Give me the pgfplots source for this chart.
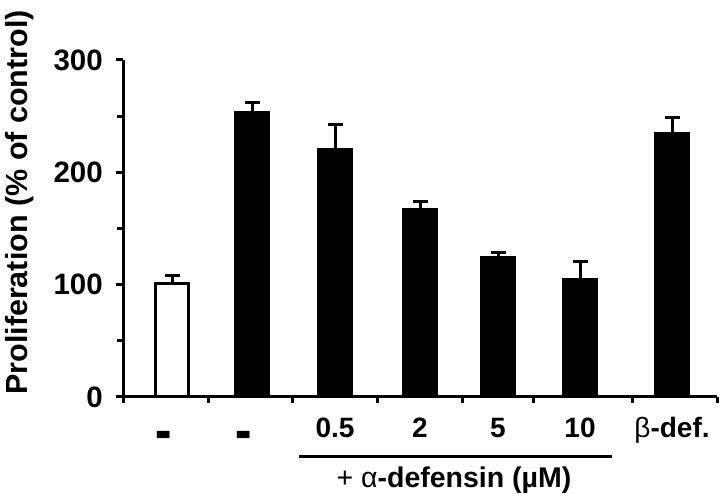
\documentclass[border=0pt]{standalone}
\usepackage{pgfplots}
\pgfplotsset{compat=1.18}
\usepackage{fontspec}
\setmainfont{Liberation Sans}
\newcommand{\dashlab}{\hbox to 0pt{\hss\raisebox{-17pt}{\scalebox{0.92}[2.6]{\textendash}}\kern16pt\hss}}
\begin{document}
\begin{tikzpicture}
\useasboundingbox (0,0) rectangle (720pt,494pt);
\begin{axis}[
  at={(123pt,97pt)}, anchor=south west,
  scale only axis, width=594pt, height=337pt,
  xmin=123, xmax=717, ymin=0, ymax=300,
  axis lines=left,
  axis line style={-, line width=3pt, black},
  clip=false,
  tick align=outside,
  major tick length=7pt, minor tick length=6pt,
  tick style={line width=3pt, black},
  ytick={0,100,200,300},
  minor ytick={50,150,250},
  xtick={172,252,335,420,498,580,672},
  xticklabels={{\dashlab},{\dashlab},0.5,2,5,10,{{\mdseries β}-def.}},
  minor xtick={123,208,292,377,462,533,632,717},
  major x tick style={draw=none},
  /pgf/number format/assume math mode=true,
  tick label style={font=\fontsize{28}{30}\selectfont\bfseries},
  xticklabel style={inner sep=0pt, anchor=north, text height=20pt, text depth=7pt, yshift=-13pt},
  yticklabel style={inner sep=0pt, anchor=east, xshift=-13pt, font=\fontsize{29.5}{31}\selectfont\bfseries},
]
\addplot[ybar, bar width=33, bar shift=0pt, fill=white, draw=black, line width=3pt,
  error bars/.cd, y dir=plus, y explicit,
  error bar style={line width=3pt, black},
  error mark options={line width=3pt, mark size=7.5pt, black, rotate=90}]
  coordinates {(172,101) +- (0,7.6)};
\addplot[ybar, bar width=33, bar shift=0pt, fill=black, draw=black, line width=3pt,
  error bars/.cd, y dir=plus, y explicit,
  error bar style={line width=3pt, black},
  error mark options={line width=3pt, mark size=7.5pt, black, rotate=90}]
  coordinates {
    (252,253) +- (0,9.5)
    (335,220) +- (0,22.5)
    (420,167) +- (0,7)
    (498,124) +- (0,5)
    (580,105) +- (0,16)
    (672,235) +- (0,14)
  };
\end{axis}
\node[rotate=90, anchor=base west, inner sep=0pt, font=\fontsize{30.5}{33}\selectfont\bfseries]
  at (27.5pt,99pt) {Proliferation (\% of control)};
\draw[line width=3pt] (299pt,37pt) -- (612pt,37pt);
\node[anchor=base, inner sep=0pt, font=\fontsize{28.5}{30}\selectfont\bfseries]
  at (454pt,6pt) {{\mdseries + α}-defensin (µM)};
\end{tikzpicture}
\end{document}
